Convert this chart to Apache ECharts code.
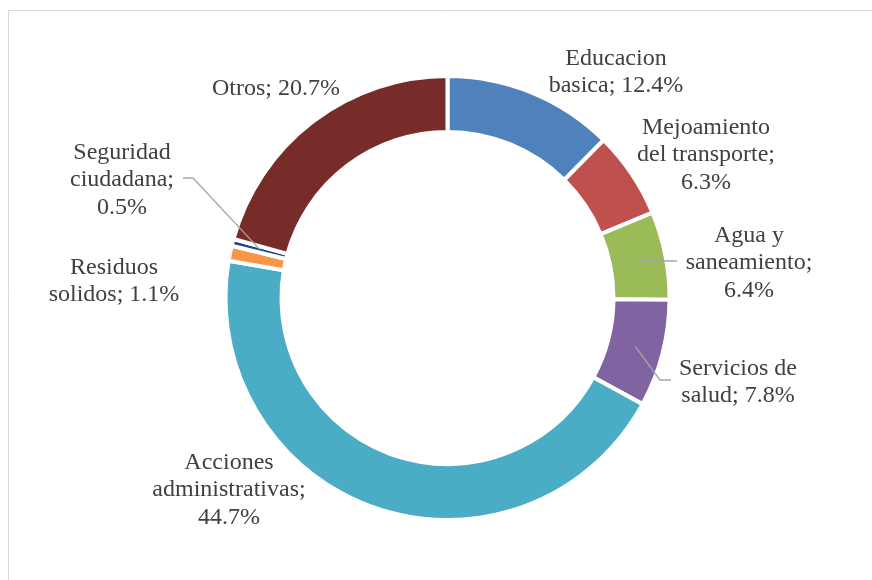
<!DOCTYPE html>
<html>
<head>
<meta charset="utf-8">
<script src="https://cdn.jsdelivr.net/npm/echarts@6/dist/echarts.min.js"></script>
<style>
html,body{margin:0;padding:0;background:#fff;}
#chart{width:872px;height:580px;}
</style>
</head>
<body>
<div id="chart"></div>
<script>
// Data
const categories = ['Educacion\nbasica', 'Mejoamiento\ndel transporte', 'Agua y\nsaneamiento', 'Servicios de\nsalud', 'Acciones\nadministrativas', 'Residuos\nsolidos', 'Seguridad\nciudadana', 'Otros'];
const values = [12.4, 6.3, 6.4, 7.8, 44.7, 1.1, 0.5, 20.7];
const labelSeparators = [' ', '\n', '\n', ' ', '\n', ' ', '\n', ' '];
const colors = ['#4F81BD', '#C0504D', '#9BBB59', '#8064A2', '#4BACC6', '#F79646', '#1F497D', '#772C2A'];

// Layout (not data)
const CX = 447.5, CY = 298, R_IN = 166, R_OUT = 222;
const labelCenters = [[616, 72], [706, 155], [749, 263], [738, 382], [229, 490], [114, 281], [122, 180], [276, 89]];
const leaderEnds = {
  2: [[677, 261]],
  3: [[660, 380], [671, 380]],
  6: [[193, 178], [183, 178]]
};

const total = values.reduce((a, b) => a + b, 0);
function midPoint(i) {
  let before = 0;
  for (let k = 0; k < i; k++) before += values[k];
  const frac = (before + values[i] / 2) / total;
  const ang = frac * 2 * Math.PI;
  const r = (R_IN + R_OUT) / 2;
  return [CX + r * Math.sin(ang), CY - r * Math.cos(ang)];
}

const chart = echarts.init(document.getElementById('chart'), null, {renderer: 'canvas'});
chart.setOption({
  animation: false,
  graphic: [{
    type: 'rect',
    shape: {x: 8.5, y: 10.5, width: 900, height: 620},
    style: {fill: 'none', stroke: '#D9D9D9', lineWidth: 1},
    silent: true
  }],
  series: [{
    type: 'pie',
    z: 2,
    center: [CX, CY],
    radius: [R_IN, R_OUT],
    startAngle: 90,
    clockwise: true,
    silent: true,
    itemStyle: {borderColor: '#ffffff', borderWidth: 4},
    label: {show: false},
    labelLine: {show: false},
    data: categories.map((name, i) => ({
      name: name,
      value: values[i],
      itemStyle: {color: colors[i]}
    }))
  }, {
    type: 'pie',
    z: 5,
    center: [CX, CY],
    radius: [R_IN, R_OUT],
    startAngle: 90,
    clockwise: true,
    silent: true,
    avoidLabelOverlap: false,
    itemStyle: {color: 'rgba(0,0,0,0)', borderWidth: 0},
    label: {
      show: true,
      position: 'outside',
      fontFamily: 'Liberation Serif',
      fontSize: 24,
      lineHeight: 27.5,
      color: '#404040',
      align: 'center',
      formatter: function (p) {
        return p.name + ';' + labelSeparators[p.dataIndex] + p.value.toFixed(1) + '%';
      }
    },
    labelLine: {show: true, lineStyle: {color: '#A6A6A6', width: 1.3}, smooth: false},
    labelLayout: function (params) {
      const i = params.dataIndex;
      const c = labelCenters[i];
      const res = {x: c[0], y: c[1], align: 'center', verticalAlign: 'middle', hideOverlap: false};
      if (leaderEnds[i]) {
        const pts = [midPoint(i)].concat(leaderEnds[i]);
        if (pts.length === 2) pts.push(pts[1].slice());
        res.labelLinePoints = pts;
      }
      return res;
    },
    data: categories.map((name, i) => ({
      name: name,
      value: values[i],
      labelLine: {show: !!leaderEnds[i]}
    }))
  }]
});
</script>
</body>
</html>
